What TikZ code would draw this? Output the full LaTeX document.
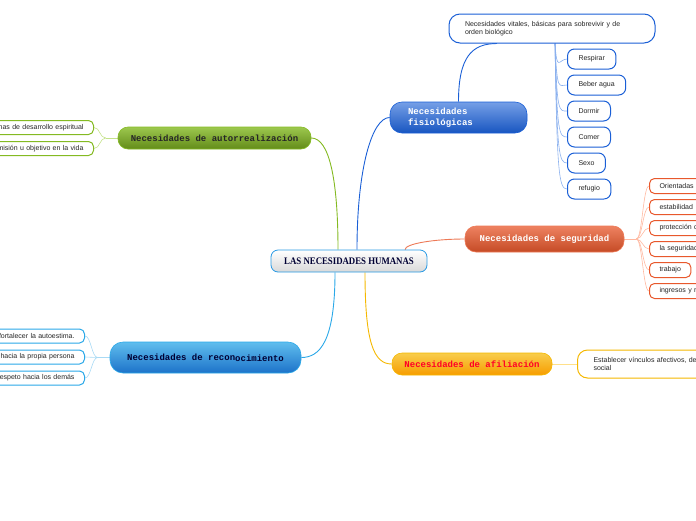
\documentclass[tikz,border=0pt]{standalone}
\usepackage{fontspec}
\usepackage{graphicx}
\setmainfont{Liberation Sans}
\newfontfamily\monofont{Liberation Mono}
\newfontfamily\seriffont{Liberation Serif}
\usetikzlibrary{calc,positioning}

% colores de cada rama
\definecolor{azul}{HTML}{1A5FD6}
\definecolor{azulclaro}{HTML}{8AB0EE}
\definecolor{rojizo}{HTML}{E8582C}
\definecolor{rojizoclaro}{HTML}{FFB8A0}
\definecolor{verde}{HTML}{84BA22}
\definecolor{verdeclaro}{HTML}{C4E28A}
\definecolor{celeste}{HTML}{2AA8E8}
\definecolor{celesteclaro}{HTML}{A8DAF5}
\definecolor{amarillo}{HTML}{F5B800}
\definecolor{amarilloclaro}{HTML}{FFE08A}

\pgfdeclarelayer{fondo}
\pgfsetlayers{fondo,main}

\tikzset{
  central/.style={draw=celeste!80!azul, line width=0.8pt, rounded corners=7pt,
    top color=white, bottom color=black!15, minimum width=156pt, minimum height=22pt,
    inner sep=0pt, text=blue!20!black, font=\seriffont\bfseries\fontsize{10}{12}\selectfont},
  tema/.style={line width=0.6pt, inner sep=0pt,
    font=\monofont\bfseries\fontsize{9}{10.5}\selectfont},
  hoja/.style={draw, fill=white, line width=1pt, inner ysep=0pt, text=black!85,
    font=\fontsize{7}{8}\selectfont},
  rama/.style={line width=0.9pt},
  ramita/.style={line width=0.6pt},
}

\begin{document}
\begin{tikzpicture}[x=1pt,y=-1pt]
\clip (0,0) rectangle (696,520);

% nodo central
\node[central] (centro) at (349,261) {\scalebox{0.88}[1]{LAS NECESIDADES HUMANAS}};

% temas principales
\node[tema, draw=azul, top color=azul!60!white, bottom color=azul!90!black, text=white,
  rounded corners=12pt, minimum width=137pt, minimum height=31pt,
  text width=101pt, align=left] (fisio) at (458.5,117.5) {Necesidades\\fisiológicas};
\node[tema, draw=rojizo!80!white, top color=rojizo!75!white, bottom color=rojizo!85!black, text=white,
  rounded corners=11pt, minimum width=159pt, minimum height=26pt] (seg) at (544.5,239) {Necesidades de seguridad};
\node[tema, draw=verde, top color=verde!80!white, bottom color=verde!75!black, text=black!85,
  rounded corners=10pt, minimum width=193pt, minimum height=22pt] (auto) at (214.5,138) {Necesidades de autorrealización};
\node[tema, draw=celeste, top color=celeste!75!white, bottom color=celeste!80!blue!85!black, text=blue!20!black,
  rounded corners=13pt, minimum width=191pt, minimum height=31pt] (recon) at (205.5,357.5) {Necesidades de recon\raisebox{-1pt}{ocimiento}};
\node[tema, draw=amarillo, top color=amarillo!70!white, bottom color=amarillo!85!red, text=red!85!magenta,
  rounded corners=10pt, minimum width=160pt, minimum height=22pt] (afil) at (472,364) {Necesidades de afiliación};

% fisiologicas
\node[hoja, draw=azul, rounded corners=11pt, minimum width=206pt, minimum height=29pt,
  text width=174pt, align=left] (vitales) at (552,28.5)
  {Necesidades vitales, básicas para sobrevivir y de\\orden biológico};
\foreach \txt [count=\i] in {Respirar,Beber agua,Dormir,Comer,Sexo,refugio}
  \node[hoja, draw=azul, rounded corners=7pt, minimum height=20pt, inner xsep=11pt,
    anchor=west] (vital\i) at (567,{33+26*\i}) {\txt};

% seguridad
\foreach \i/\txt in {1/Orientadas a,2/estabilidad,3/protección d,4/la seguridad,6/ingresos y r}
  \node[hoja, draw=rojizo, rounded corners=5pt, minimum height=15pt, inner xsep=10pt,
    text width=80pt, align=left, anchor=west] (segur\i) at (649,{165+21*\i}) {\txt};
\node[hoja, draw=rojizo, rounded corners=5pt, minimum height=15pt, inner xsep=10pt,
  anchor=west] (segur5) at (649,270) {trabajo};
\coordinate (segfan) at ($(seg.east)+(12,0)$);

% autorrealizacion
\foreach \txt [count=\i] in {nas de desarrollo espiritual,misión u objetivo en la vida}
  \node[hoja, draw=verde, rounded corners=5pt, minimum height=14pt, inner xsep=10pt,
    text width=100pt, align=right, anchor=east] (autor\i) at (94,{106.5+21*\i}) {\txt};
\coordinate (autofan) at ($(auto.west)+(-12,0)$);

% reconocimiento
\foreach \txt [count=\i] in {fortalecer la autoestima.,hacia la propia persona,respeto hacia los demás}
  \node[hoja, draw=celeste, rounded corners=5pt, minimum height=14pt, inner xsep=10pt,
    text width=100pt, align=right, anchor=east] (recon\i) at (85,{315+21*\i}) {\txt};
\coordinate (reconfan) at ($(recon.west)+(-12,0)$);

% afiliacion
\node[hoja, draw=amarillo, rounded corners=10pt, minimum height=28pt, inner xsep=16pt,
  text width=150pt, align=left, anchor=west] (afil1) at (577,364)
  {Establecer vínculos afectivos, de\\social};

% conectores
\begin{pgfonlayer}{fondo}
  \draw[rama, azul] (fisio.west) .. controls +(-18,0) and +(0,-80) .. ($(centro.north)+(8,0)$);
  \draw[rama, verde] (auto.east) .. controls +(18,0) and +(0,-70) .. ($(centro.north)+(-11,0)$);
  \draw[rama, rojizo!80!white] (seg.west) .. controls +(-30,0) and +(0,-6) .. ($(centro.north)+(56,0)$);
  \draw[rama, celeste] (recon.east) .. controls +(18,0) and +(0,70) .. ($(centro.south)+(-14,0)$);
  \draw[rama, amarillo] (afil.west) .. controls +(-18,0) and +(0,70) .. ($(centro.south)+(16,0)$);
  \draw[rama, azul] (fisio.north) .. controls +(0,-45) and +(-25,0) .. ($(vitales.south)+(-55,0)$);
  \foreach \i in {1,...,6}
    \draw[ramita, azulclaro] ($(vitales.south)+(3,0)$) .. controls +(2,{10+20*\i}) and +(-8,0) .. (vital\i.west);
  \draw[rama, rojizoclaro] (seg.east) -- (segfan);
  \foreach \i in {1,...,6}
    \draw[ramita, rojizoclaro] (segfan) .. controls +(6,0) and +(-6,0) .. (segur\i.west);
  \draw[rama, verdeclaro] (auto.west) -- (autofan);
  \foreach \i in {1,2}
    \draw[ramita, verdeclaro] (autofan) .. controls +(-6,0) and +(6,0) .. (autor\i.east);
  \draw[rama, celesteclaro] (recon.west) -- (reconfan);
  \foreach \i in {1,2,3}
    \draw[ramita, celesteclaro] (reconfan) .. controls +(-6,0) and +(6,0) .. (recon\i.east);
  \draw[rama, amarilloclaro] (afil.east) -- (afil1.west);
\end{pgfonlayer}
\end{tikzpicture}
\end{document}
